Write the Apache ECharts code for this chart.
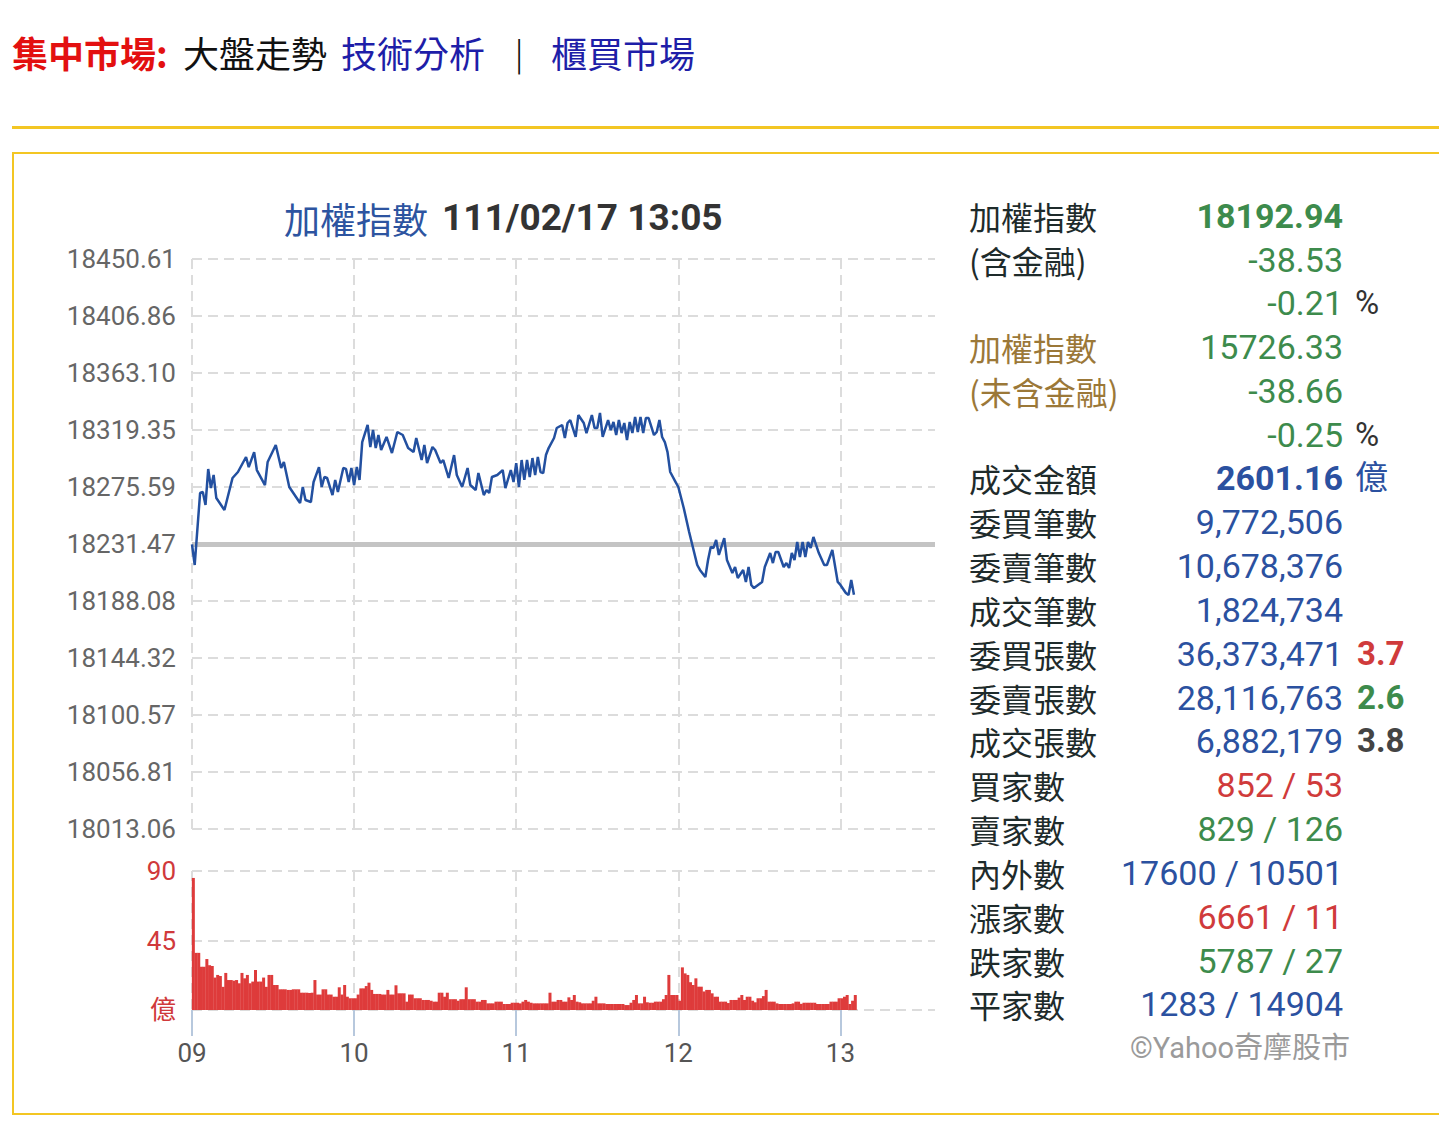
<!DOCTYPE html>
<html><head><meta charset="utf-8">
<script src="https://cdn.jsdelivr.net/npm/echarts@6/dist/echarts.min.js"></script>
<style>
html,body{margin:0;padding:0;background:#fff;width:1439px;height:1138px;overflow:hidden;font-family:Roboto,"Noto Sans CJK TC",sans-serif;}
#chart{position:absolute;left:0;top:0;width:1439px;height:1138px;}
.abs{position:absolute;white-space:nowrap;line-height:40px;}
.hdr{position:absolute;top:30px;font-size:36px;line-height:44px;white-space:nowrap;font-family:"Noto Sans CJK TC",sans-serif;}
.lab{left:969px;font-size:32px;color:#1e2b2b;font-family:"Noto Sans CJK TC",sans-serif;}
.val{right:96px;font-size:34px;text-align:right;font-family:Roboto,"Noto Sans CJK TC",sans-serif;}
.ext{left:1355px;font-size:33px;font-family:Roboto,"Noto Sans CJK TC",sans-serif;}
.g{color:#3d8b4c}.b{color:#2b51a0}.r{color:#d03b3b}.br{color:#9b7838}.dk{color:#333}
.bold{font-weight:bold}
</style></head>
<body>
<div id="chart"></div>
<div class="hdr" style="left:12px;color:#e31010;font-weight:bold">集中市場:</div>
<div class="hdr" style="left:183px;color:#111">大盤走勢</div>
<div class="hdr" style="left:341px;color:#1e1ea8">技術分析</div>
<div class="hdr" style="left:513px;top:32px;color:#111;font-family:'DejaVu Sans',sans-serif;font-weight:300">|</div>
<div class="hdr" style="left:551px;color:#1e1ea8">櫃買市場</div>
<div style="position:absolute;left:12px;top:126px;width:1427px;height:3px;background:#f3c623"></div>
<div style="position:absolute;left:12px;top:152px;width:1440px;height:959px;border:2px solid #f3c623;box-sizing:content-box"></div>

<div class="abs lab" style="top:196px">加權指數</div><div class="abs val g bold" style="top:196px">18192.94</div>
<div class="abs lab" style="top:240px">(含金融)</div><div class="abs val g" style="top:240px">-38.53</div>
<div class="abs val g" style="top:283px">-0.21</div><div class="abs ext dk" style="top:283px">%</div>
<div class="abs lab br" style="top:327px">加權指數</div><div class="abs val g" style="top:327px">15726.33</div>
<div class="abs lab br" style="top:371px">(未含金融)</div><div class="abs val g" style="top:371px">-38.66</div>
<div class="abs val g" style="top:415px">-0.25</div><div class="abs ext dk" style="top:415px">%</div>
<div class="abs lab" style="top:458px">成交金額</div><div class="abs val b bold" style="top:458px">2601.16</div><div class="abs ext b" style="top:458px">億</div>
<div class="abs lab" style="top:502px">委買筆數</div><div class="abs val b" style="top:502px">9,772,506</div>
<div class="abs lab" style="top:546px">委賣筆數</div><div class="abs val b" style="top:546px">10,678,376</div>
<div class="abs lab" style="top:590px">成交筆數</div><div class="abs val b" style="top:590px">1,824,734</div>
<div class="abs lab" style="top:634px">委買張數</div><div class="abs val b" style="top:634px">36,373,471</div><div class="abs ext r bold" style="top:634px;left:1357px">3.7</div>
<div class="abs lab" style="top:678px">委賣張數</div><div class="abs val b" style="top:678px">28,116,763</div><div class="abs ext g bold" style="top:678px;left:1357px">2.6</div>
<div class="abs lab" style="top:721px">成交張數</div><div class="abs val b" style="top:721px">6,882,179</div><div class="abs ext bold" style="top:721px;left:1357px;color:#444">3.8</div>
<div class="abs lab" style="top:765px">買家數</div><div class="abs val r" style="top:765px">852 / 53</div>
<div class="abs lab" style="top:809px">賣家數</div><div class="abs val g" style="top:809px">829 / 126</div>
<div class="abs lab" style="top:853px">內外數</div><div class="abs val b" style="top:853px">17600 / 10501</div>
<div class="abs lab" style="top:897px">漲家數</div><div class="abs val r" style="top:897px">6661 / 11</div>
<div class="abs lab" style="top:941px">跌家數</div><div class="abs val g" style="top:941px">5787 / 27</div>
<div class="abs lab" style="top:984px">平家數</div><div class="abs val b" style="top:984px">1283 / 14904</div>
<div class="abs" style="top:1028px;right:89px;font-size:29px;color:#9a9a9a;font-family:Roboto,'Noto Sans CJK TC',sans-serif">©Yahoo奇摩股市</div>

<script>
// ---- data ----
const chartTitle = '加權指數';
const chartStamp = '111/02/17 13:05';
const prevClose = 18231.47;
const priceTickLabels = ['18013.06','18056.81','18100.57','18144.32','18188.08','18231.47','18275.59','18319.35','18363.10','18406.86','18450.61'];
const hourLabels = ['09','10','11','12','13'];
const volumeTickLabels = ['億','45','90'];
// minutes after 09:00
const priceMinutes = [0,1,3,4,5,6,7,8,9,12,15,17,20,21,23,24,27,28,31,33,34,36,40,41,42,44,45,47,48,49,50,52,53,54,56,57,58,59,60,61,62,63,65,66,67,68,69,70,72,74,76,78,80,82,83,85,86,87,89,90,92,93,95,97,98,100,102,103,105,106,108,109,110,111,113,115,116,118,119,120,121,122,123,124,125,126,127,128,129,130,131,132,134,135,137,138,139,140,142,143,145,146,148,149,150,151,152,154,155,156,157,158,159,160,161,162,163,164,165,166,167,168,169,171,172,173,174,175,176,177,179,180,182,184,185,187,188,190,191,192,193,194,195,197,198,200,201,202,204,205,206,207,208,211,212,214,215,216,217,219,220,221,222,223,224,225,226,227,228,229,230,232,234,235,237,239,240,242,243,244,245];
const priceValues = [18231.5,18215.7,18271.0,18271.8,18261.8,18289.4,18274.8,18284.8,18267.1,18257.9,18282.5,18287.1,18298.6,18290.9,18302.4,18288.6,18277.1,18294.8,18307.8,18290.2,18294.8,18275.6,18263.3,18275.6,18265.6,18264.1,18279.4,18290.9,18275.6,18283.3,18282.5,18269.4,18281.0,18271.7,18290.2,18289.5,18279.4,18290.2,18277.1,18291.0,18281.0,18310.1,18323.2,18306.3,18319.3,18305.5,18315.5,18304.0,18314.0,18301.7,18317.8,18315.5,18305.5,18302.4,18313.2,18296.3,18307.8,18294.0,18306.3,18304.0,18294.0,18296.3,18282.5,18300.1,18284.8,18275.6,18290.2,18277.1,18273.3,18286.3,18269.4,18273.3,18271.0,18283.3,18284.8,18288.6,18274.8,18288.6,18279.4,18293.9,18275.6,18296.3,18281.0,18296.3,18283.3,18297.8,18284.8,18298.6,18287.1,18286.3,18300.1,18305.5,18313.2,18320.9,18323.2,18313.2,18324.7,18327.0,18314.0,18330.8,18324.7,18317.0,18330.8,18320.9,18320.9,18332.4,18314.0,18327.0,18319.3,18325.5,18315.5,18327.0,18317.0,18324.7,18311.7,18325.5,18317.0,18329.3,18317.8,18329.3,18317.0,18328.5,18328.5,18315.5,18317.8,18327.0,18314.0,18310.1,18302.4,18287.1,18279.4,18275.6,18259.5,18241.0,18232.6,18215.7,18211.9,18206.5,18219.5,18229.5,18228.8,18234.9,18223.4,18236.4,18219.5,18209.6,18214.2,18205.7,18211.9,18202.7,18214.2,18200.4,18198.0,18202.7,18214.2,18224.9,18217.2,18225.7,18225.7,18214.2,18217.2,18213.4,18224.9,18219.5,18233.4,18221.8,18233.4,18221.8,18233.4,18228.8,18237.2,18224.9,18215.7,18215.7,18227.2,18202.7,18200.4,18194.2,18192.7,18204.2,18192.94];
// per-minute traded value (億), minute 0 = 09:00
const volumes = [85.5,37,37,28,28,33,29,28.5,21,22.7,
22,15,24,19.4,19.4,19,19.4,17.3,24,20.5,
22.7,17.3,18.4,25.9,18.4,18.4,21,15,22.7,22.7,
16.2,16.2,13.4,13.4,13.4,13,13,13.4,13.4,13.4,
11.2,11.2,11.2,11,11.2,19.4,10,10,13.4,13.4,
10,10,8.6,8.6,14.7,10,16.2,8.6,7.6,7.6,
7.6,10,14,14,15.5,17.7,13,10.4,10.4,10.4,
10,10,13,10,10,16,10.8,10.8,10.8,5.4,
10,10,7.6,7.6,7.6,6.5,6.5,6.5,6,5.4,
5.4,11.2,11.2,8.6,11.2,7,7,7,6,7,
7,14.7,7,7,7,5.4,5.4,6.5,6.5,4.3,
4.3,4.3,5.4,5.4,5.4,3.9,3.9,3.9,4.7,4.7,
4.7,4.3,5.4,6.5,5.4,4.7,4.3,4.3,4.3,4.3,
4.3,4.3,11.2,5.4,5.4,6.5,6.5,5.4,5.4,8.2,
6.5,9.7,5.4,5,4.3,4.3,4.3,4.3,6,8.6,
4.3,4.3,4.3,3.9,3.9,3.9,3.9,3.9,3.9,3.9,
3.2,3.2,4.7,6.5,9.7,4.3,4.3,8.6,5,4.7,
4.7,5.4,5.4,5.4,7,9.7,22.7,9.7,9.7,9.7,
6,27.6,23.7,22.7,18,16.2,20.5,15.1,15.1,12,
13,13,10.8,8.6,8.6,5.4,5.4,5.4,4.5,6.5,
6.5,6.5,8,9.7,6.5,8.6,8.6,6,5,7.6,
7.6,9,13,5.4,5.4,5.4,4.3,3.9,3.9,3.9,
3.9,3.9,4.3,5.4,5.4,4,4.7,4.7,4.7,4.7,
4.7,3.9,3.9,3.9,3.9,3.9,5.4,5.4,5.4,7.6,
7.6,8.6,9.7,3.9,6,9.7];

// ---- chart ----
const yMin = parseFloat(priceTickLabels[0]);
const yMax = parseFloat(priceTickLabels[priceTickLabels.length - 1]);
const yStep = (yMax - yMin) / (priceTickLabels.length - 1);
const hourValues = hourLabels.map((h, i) => i * 60);
const volMax = parseFloat(volumeTickLabels[volumeTickLabels.length - 1]);
const volStep = volMax / (volumeTickLabels.length - 1);
const sessionEnd = 275;

const dash = {type: [10, 6], color: '#dcdcdc', width: 2};
const numFont = 'Roboto, "Noto Sans CJK TC", sans-serif';

const chart = echarts.init(document.getElementById('chart'), null, {renderer: 'svg'});
chart.setOption({
  animation: false,
  title: {
    text: '{a|' + chartTitle + '}{b|' + chartStamp + '}',
    left: 279, top: 194,
    textStyle: {fontWeight: 'normal', rich: {
      a: {fontSize: 36, fontWeight: 'normal', color: '#2d54a0', fontFamily: '"Noto Sans CJK TC", sans-serif'},
      b: {fontSize: 37, fontWeight: 'bold', color: '#333', fontFamily: numFont, padding: [0, 0, 0, 14]}
    }}
  },
  grid: [
    {left: 192, top: 259, width: 743, height: 570},
    {left: 192, top: 871, width: 743, height: 139}
  ],
  xAxis: [
    {gridIndex: 0, type: 'value', min: 0, max: sessionEnd, interval: 60,
     axisLine: {show: false}, axisTick: {show: false}, axisLabel: {show: false},
     splitLine: {show: true, showMaxLine: false, lineStyle: dash}},
    {gridIndex: 1, type: 'value', min: 0, max: sessionEnd, interval: 60,
     axisLine: {show: false},
     axisTick: {show: true, customValues: hourValues, length: 26, lineStyle: {color: '#b7c8dd', width: 2}},
     axisLabel: {show: true, customValues: hourValues, margin: 30, color: '#555', fontSize: 26, fontFamily: numFont,
       formatter: v => hourLabels[Math.round(v / 60)] || ''},
     splitLine: {show: true, showMaxLine: false, lineStyle: dash}}
  ],
  yAxis: [
    {gridIndex: 0, type: 'value', min: yMin, max: yMax, interval: yStep,
     axisLine: {show: false}, axisTick: {show: false},
     axisLabel: {color: '#666', fontSize: 26, margin: 16, fontFamily: numFont,
       formatter: v => priceTickLabels[Math.round((v - yMin) / yStep)] || ''},
     splitLine: {show: true, lineStyle: dash}},
    {gridIndex: 1, type: 'value', min: 0, max: volMax, interval: volStep,
     axisLine: {show: false}, axisTick: {show: false},
     axisLabel: {color: '#d0393b', fontSize: 26, margin: 16, fontFamily: numFont,
       formatter: v => volumeTickLabels[Math.round(v / volStep)] || ''},
     splitLine: {show: true, lineStyle: dash}}
  ],
  series: [
    {type: 'line', xAxisIndex: 0, yAxisIndex: 0, data: [], z: 1, silent: true,
     markLine: {z: 1, symbol: 'none', silent: true, label: {show: false},
       lineStyle: {color: '#c4c4c4', width: 5, type: 'solid'},
       data: [{yAxis: prevClose}]}},
    {type: 'line', xAxisIndex: 0, yAxisIndex: 0, z: 5, showSymbol: false,
     lineStyle: {color: '#2350a0', width: 2.5}, itemStyle: {color: '#2350a0'},
     data: priceMinutes.map((m, i) => [m, priceValues[i]])},
    {type: 'bar', xAxisIndex: 1, yAxisIndex: 1, barWidth: 3,
     itemStyle: {color: '#de3b3b'},
     data: volumes.map((v, i) => [i + 0.5, v])}
  ]
});
</script>
</body></html>
